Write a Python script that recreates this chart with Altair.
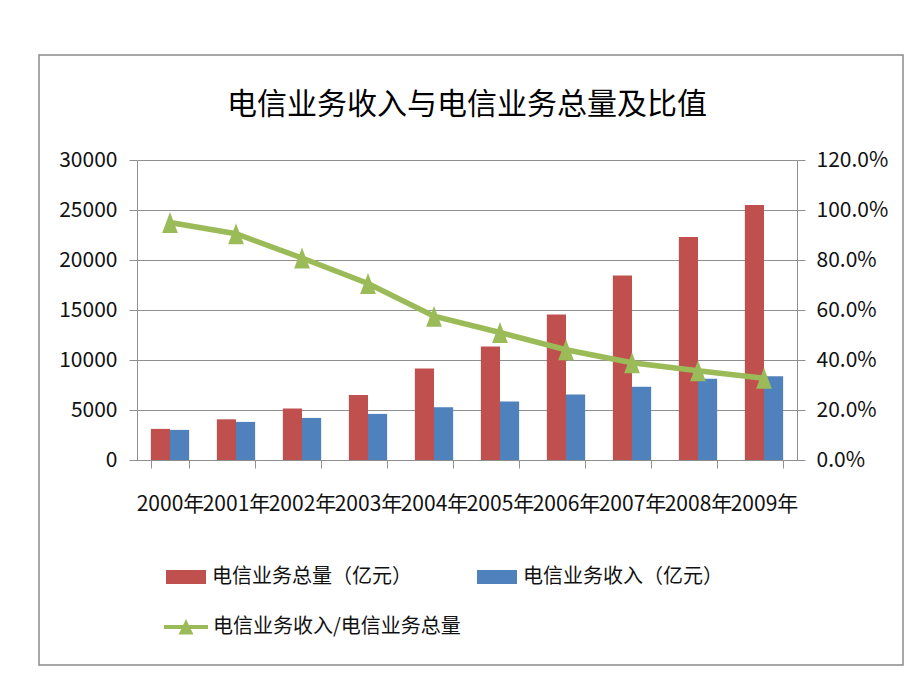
import altair as alt
import pandas as pd

years = ["2000年", "2001年", "2002年", "2003年", "2004年",
         "2005年", "2006年", "2007年", "2008年", "2009年"]
total_volume = [3110, 4070, 5140, 6510, 9150, 11350, 14560, 18440, 22300, 25510]
revenue = [3010, 3810, 4210, 4610, 5270, 5840, 6540, 7320, 8120, 8380]
ratio = [0.950, 0.905, 0.808, 0.706, 0.575, 0.510, 0.441, 0.389, 0.357, 0.327]

s_total = "电信业务总量（亿元）"
s_rev = "电信业务收入（亿元）"
s_ratio = "电信业务收入/电信业务总量"
title_text = "电信业务收入与电信业务总量及比值"

RED = "#C0504D"
BLUE = "#4F81BD"
GREEN = "#9BBB59"
GRID = "#8f8f8f"
TXT = "#111111"
NUMFONT = "Liberation Sans Narrow, Noto Sans CJK SC"
CJK = "Noto Sans CJK SC"

bar_rows = []
for i, y in enumerate(years):
    bar_rows.append({"year": y, "series": s_total, "value": total_volume[i]})
    bar_rows.append({"year": y, "series": s_rev, "value": revenue[i]})
bar_df = pd.DataFrame(bar_rows)
line_df = pd.DataFrame({"year": years, "ratio": ratio, "s": [s_ratio] * len(years)})

x_enc = alt.X(
    "year:N", sort=years,
    scale=alt.Scale(paddingInner=0.42, paddingOuter=0.21),
    axis=alt.Axis(title=None, labelAngle=0, tickBand="extent", tickSize=8,
                  labelPadding=25, labelFont=NUMFONT, labelFontSize=21,
                  labelColor=TXT, domainColor=GRID, tickColor=GRID,
                  grid=False, labelOverlap=False),
)

bars = alt.Chart(bar_df).mark_bar().encode(
    x=x_enc,
    xOffset=alt.XOffset("series:N", scale=alt.Scale(domain=[s_total, s_rev], paddingInner=0, paddingOuter=0)),
    y=alt.Y("value:Q", scale=alt.Scale(domain=[0, 30000], nice=False),
            axis=alt.Axis(orient="left", title=None,
                          values=[0, 5000, 10000, 15000, 20000, 25000, 30000],
                          format="d", grid=True, gridColor=GRID, gridWidth=1,
                          domainColor=GRID, tickColor=GRID, tickSize=8,
                          labelFont=NUMFONT, labelFontSize=21, labelColor=TXT,
                          labelPadding=12)),
    color=alt.Color("series:N",
                    scale=alt.Scale(domain=[s_total, s_rev], range=[RED, BLUE]),
                    legend=alt.Legend(orient="none", legendX=29, legendY=397,
                                      direction="horizontal", columns=2,
                                      columnPadding=65, title=None, padding=0,
                                      symbolType="M-1,-0.35L1,-0.35L1,0.35L-1,0.35Z",
                                      symbolSize=1600, symbolStrokeWidth=0,
                                      labelFont=CJK, labelFontSize=20,
                                      labelColor=TXT, labelOffset=6,
                                      labelLimit=400)),
)

y_right = alt.Y("ratio:Q", scale=alt.Scale(domain=[0, 1.2], nice=False),
                axis=alt.Axis(orient="right", title=None,
                              values=[0, 0.2, 0.4, 0.6, 0.8, 1.0, 1.2],
                              format=".1%", grid=False, domainColor=GRID,
                              tickColor=GRID, tickSize=8, labelFont=NUMFONT,
                              labelFontSize=21, labelColor=TXT, labelPadding=11))

line = alt.Chart(line_df).mark_line(strokeWidth=5.5, color=GREEN).encode(
    x=x_enc,
    y=y_right,
    stroke=alt.Stroke("s:N", scale=alt.Scale(domain=[s_ratio], range=[GREEN]),
                      legend=alt.Legend(orient="none", legendX=27, legendY=445,
                                        title=None, padding=0,
                                        symbolType="M-1,-0.09L1,-0.09L1,0.09L-1,0.09Z M0,-0.36L0.34,0.34L-0.34,0.34Z",
                                        symbolSize=1936, symbolFillColor=GREEN,
                                        symbolStrokeColor=GREEN, symbolStrokeWidth=0,
                                        labelFont=CJK, labelFontSize=20,
                                        labelColor=TXT, labelOffset=5,
                                        labelLimit=400)),
)

pts = alt.Chart(line_df).mark_point(
    shape="M0,-1L0.75,1L-0.75,1Z", filled=True, size=440, color=GREEN, opacity=1
).encode(x=x_enc, y=y_right)

frame = alt.Chart(alt.InlineData(values=[{"a": 1}])).mark_rect(
    fill=None, stroke="#8a8a8a", strokeWidth=1.5
).encode(x=alt.value(-98), x2=alt.value(766), y=alt.value(-105), y2=alt.value(505))

chart = alt.layer(frame, bars, alt.layer(line, pts)).resolve_scale(
    y="independent"
).properties(
    width=660, height=300,
    title=alt.TitleParams(title_text, font=CJK, fontSize=30, fontWeight="normal",
                          color="#000000", anchor="middle", frame="group", offset=-66),
    autosize=alt.AutoSizeParams(type="none"),
    padding={"left": 129, "top": 152, "right": 111, "bottom": 218},
).configure_view(stroke=None)

chart.save("out.html", embed_options={"renderer": "svg", "actions": False})
